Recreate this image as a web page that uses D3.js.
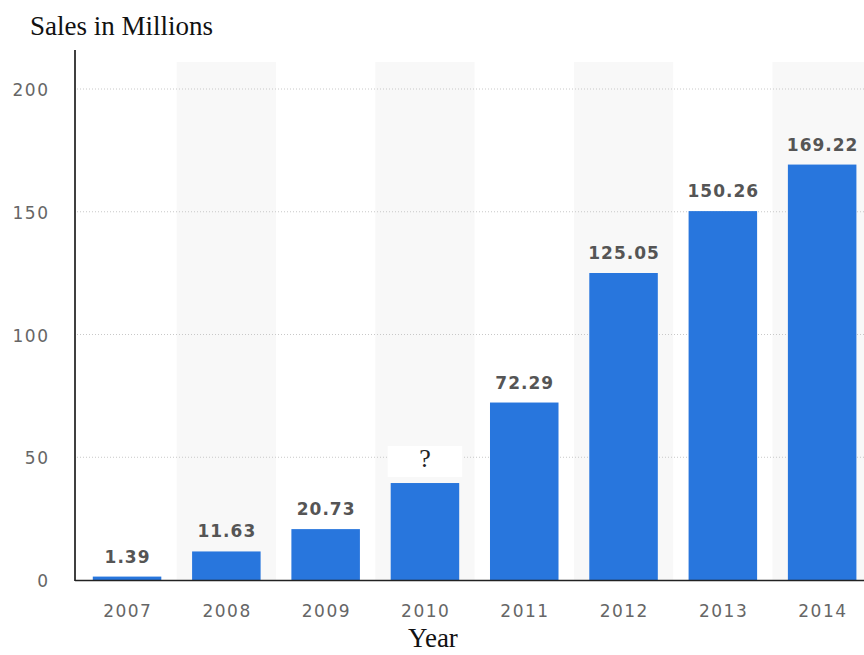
<!DOCTYPE html>
<html>
<head>
<meta charset="utf-8"/>
<script src="https://d3js.org/d3.v7.min.js"></script>
<style>
  body { margin: 0; background: #fff; }
</style>
</head>
<body>
<svg id="chart" width="864" height="655"></svg>
<script>
// data
let years = ["2007", "2008", "2009", "2010", "2011", "2012", "2013", "2014"];
let sales = [1.39, 11.63, 20.73, 39.5, 72.29, 125.05, 150.26, 169.22];
let labels = ["1.39", "11.63", "20.73", "?", "72.29", "125.05", "150.26", "169.22"];
let yTicks = [0, 50, 100, 150, 200];

let svg = d3.select("#chart");

let x = d3.scaleBand()
    .domain(years)
    .range([77.4, 871.8])
    .paddingInner(0.31)
    .paddingOuter(0.155);

let y = d3.scaleLinear()
    .domain([0, 200])
    .range([580, 89]);

// alternating shaded columns
svg.selectAll("rect.shade")
    .data(years.filter((d, i) => i % 2 == 1))
    .enter().append("rect")
    .attr("class", "shade")
    .attr("x", d => x(d) - x.step() * x.paddingInner() / 2)
    .attr("width", x.step())
    .attr("y", 62)
    .attr("height", 580 - 62)
    .attr("fill", "#f8f8f8");

// gridlines
svg.selectAll("line.grid")
    .data(yTicks.filter(d => d > 0))
    .enter().append("line")
    .attr("class", "grid")
    .attr("x1", 77).attr("x2", 864)
    .attr("y1", d => y(d)).attr("y2", d => y(d))
    .attr("stroke", "#c8c8c8")
    .attr("stroke-dasharray", "1,2");

// bars
svg.selectAll("rect.bar")
    .data(sales)
    .enter().append("rect")
    .attr("class", "bar")
    .attr("x", (d, i) => x(years[i]))
    .attr("width", x.bandwidth())
    .attr("y", d => y(d))
    .attr("height", d => y(0) - y(d))
    .attr("fill", "#2876dd");

// white box behind the "?" label
let qi = labels.indexOf("?");
svg.append("rect")
    .attr("x", x(years[qi]) - 3)
    .attr("y", y(sales[qi]) - 37)
    .attr("width", x.bandwidth() + 6)
    .attr("height", 31)
    .attr("fill", "#fff");

// value labels
svg.selectAll("text.val")
    .data(sales)
    .enter().append("text")
    .attr("class", "val")
    .attr("x", (d, i) => x(years[i]) + x.bandwidth() / 2 + (labels[i] == "?" ? 0 : 0.5))
    .attr("y", (d, i) => labels[i] == "?" ? y(d) - 16 : y(d) - 14)
    .attr("text-anchor", "middle")
    .style("font-family", (d, i) => labels[i] == "?" ? "'Liberation Serif', serif" : "'DejaVu Sans', sans-serif")
    .style("font-weight", (d, i) => labels[i] == "?" ? "normal" : "bold")
    .style("font-size", (d, i) => labels[i] == "?" ? "26px" : "17px")
    .style("letter-spacing", (d, i) => labels[i] == "?" ? "0px" : "1px")
    .attr("fill", (d, i) => labels[i] == "?" ? "#222" : "#555")
    .text((d, i) => labels[i]);

// axes
svg.append("line")
    .attr("x1", 75).attr("x2", 75)
    .attr("y1", 50).attr("y2", 581)
    .attr("stroke", "#000").attr("stroke-width", 1.5);
svg.append("line")
    .attr("x1", 75).attr("x2", 864)
    .attr("y1", 580.5).attr("y2", 580.5)
    .attr("stroke", "#222").attr("stroke-width", 1.5);

svg.selectAll("text.ytick")
    .data(yTicks)
    .enter().append("text")
    .attr("class", "ytick")
    .attr("x", 49.5)
    .attr("y", d => y(d) + 7)
    .attr("text-anchor", "end")
    .style("font-family", "'DejaVu Sans', sans-serif")
    .style("font-size", "17px")
    .style("letter-spacing", "1.5px")
    .attr("fill", "#666")
    .text(d => d);

svg.selectAll("text.xtick")
    .data(years)
    .enter().append("text")
    .attr("class", "xtick")
    .attr("x", d => x(d) + x.bandwidth() / 2 + 0.75)
    .attr("y", 617)
    .attr("text-anchor", "middle")
    .style("font-family", "'DejaVu Sans', sans-serif")
    .style("font-size", "17px")
    .style("letter-spacing", "1.5px")
    .attr("fill", "#666")
    .text(d => d);

// titles
svg.append("text")
    .attr("x", 30).attr("y", 35)
    .style("font-family", "'Liberation Serif', serif")
    .style("font-size", "27px")
    .attr("fill", "#111")
    .text("Sales in Millions");
svg.append("text")
    .attr("x", 433).attr("y", 647)
    .attr("text-anchor", "middle")
    .style("font-family", "'Liberation Serif', serif")
    .style("font-size", "27px")
    .attr("fill", "#111")
    .text("Year");
</script>
</body>
</html>
